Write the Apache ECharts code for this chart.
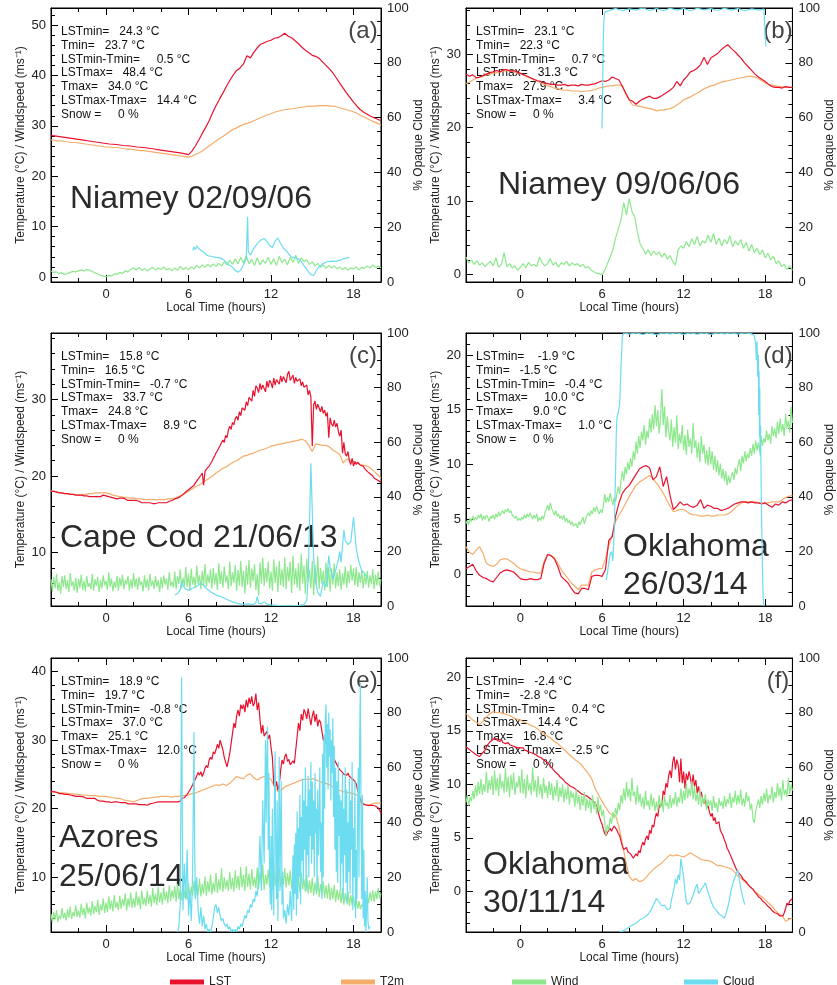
<!DOCTYPE html>
<html><head><meta charset="utf-8">
<script src="https://cdn.jsdelivr.net/npm/echarts@6/dist/echarts.min.js"></script>
<style>html,body{margin:0;padding:0;background:#fff}#c{width:837px;height:985px}</style>
</head><body><div id="c"></div><script>
// ---------------- DATA ----------------
// LST / T2m sampled every 0.25 h from -4 h (panels a,b,d) ; fine LST every 0.1 h (c,e,f)
// Wind every 0.2 h (a,b) or 0.1 h (c,d,e,f); Cloud given as [hour, %] pairs
const aLST = [28.1,28.0,27.9,27.8, 27.7,27.6,27.5,27.4, 27.3,27.2,27.1,27.0, 26.9,26.8,26.7,26.6, 26.5,26.4,26.35,26.3, 26.2,26.1,26.05,26.0, 25.9,25.8,25.75,25.7, 25.6,25.5,25.4,25.3, 25.2,25.1,25.0,24.9, 24.8,24.7,24.6,24.45, 24.3,25.0,26.0,27.2, 28.5,29.7,31.0,32.6, 34.0,35.3,36.5,37.8, 39.0,40.1,41.0,41.5, 42.3,43.9,43.5,44.6, 45.5,46.2,46.5,46.8, 47.0,47.4,47.5,47.9, 48.4,47.8,47.5,46.9, 46.3,45.6,45.0,44.5, 44.0,43.8,43.4,42.7, 42.0,41.3,40.5,39.5, 38.5,37.5,36.5,35.6, 34.7,33.9,33.2,32.7, 32.3,31.9,31.6,31.3, 31.0];
const aT2m = [27.2,27.1,27.0,27.0, 26.9,26.8,26.7,26.7, 26.6,26.5,26.4,26.3, 26.2,26.1,26.0,25.9, 25.8,25.8,25.7,25.7, 25.6,25.5,25.4,25.4, 25.3,25.2,25.1,25.1, 25.0,24.9,24.8,24.7, 24.6,24.5,24.4,24.3, 24.2,24.1,24.0,23.9, 23.8,24.0,24.3,24.6, 25.0,25.5,26.0,26.5, 27.0,27.5,27.9,28.4, 28.9,29.3,29.6,30.0, 30.3,30.5,30.7,31.0, 31.3,31.6,31.9,32.2, 32.4,32.7,32.9,33.1, 33.2,33.3,33.4,33.5, 33.6,33.7,33.8,33.9, 33.9,33.9,34.0,34.0, 34.0,33.9,33.9,33.8, 33.6,33.4,33.2,33.0, 32.8,32.5,32.1,31.8, 31.4,31.1,30.8,30.5, 30.2];
const aWind = [1.2,0.9,1.0,0.7,0.8,0.5,0.7,0.9,1.1,1.0, 1.2,1.4,1.2,1.5,1.3,1.1,0.8,0.6,0.3,0.2, 0.0,0.3,0.2,0.6,0.5,0.9,0.7,1.2,1.0,1.5, 1.8,1.4,1.9,1.3,1.7,1.2,1.6,1.9,1.4,1.8, 1.5,2.0,1.4,1.7,1.2,1.8,1.3,2.1,1.5,1.9, 1.4,2.0,1.6,2.3,1.8,2.4,1.9,2.5,2.0,2.6, 2.1,2.7,2.2,3.0,2.4,3.3,2.5,3.6,2.6,3.9, 2.8,4.2,2.6,3.5,2.3,3.8,2.4,3.4,2.7,3.9, 2.5,3.6,2.3,4.1,2.8,3.5,2.4,3.9,2.9,4.3, 2.7,3.8,3.1,3.4,2.5,3.0,2.2,2.7,1.9,2.4, 1.7,2.3,1.8,2.2,1.6,2.0,1.5,1.9,1.3,1.8, 1.6,2.0,1.4,1.9,1.7,2.2,1.8,2.4,1.9,2.1, 1.8];
const aCloud = [[6.3,11.5],[6.4,12.8],[6.5,11.8],[6.6,13.2],[6.7,12.4],[6.8,13.0],[6.9,11.6],[7.0,12.2],[7.2,10.5],[7.4,9.6],[7.7,9.3],[8.0,9.0],[8.3,8.8],[8.6,7.9],[8.9,6.4],[9.2,5.4],[9.4,4.2],[9.6,3.6],[9.8,4.4],[10.0,6.3],[10.2,8.5],[10.3,23.8],[10.35,11.0],[10.5,9.8],[10.7,11.9],[10.9,13.3],[11.1,14.6],[11.3,15.4],[11.5,15.9],[11.7,14.8],[11.9,13.3],[12.1,12.6],[12.3,14.9],[12.5,16.1],[12.7,14.0],[12.9,12.3],[13.1,11.5],[13.3,10.2],[13.5,9.1],[13.8,8.8],[14.1,8.2],[14.4,6.0],[14.7,4.0],[14.9,2.6],[15.1,2.4],[15.3,4.2],[15.5,5.6],[15.8,6.8],[16.1,7.4],[16.4,7.6],[16.7,7.5],[17.0,7.9],[17.2,8.3],[17.4,8.6],[17.7,8.9]];

const bLST = [27.3,27.0,27.2,26.8, 26.9,27.1,27.3,27.5, 27.6,27.8,27.6,27.9, 27.9,27.7,27.8,27.6, 27.4,27.2,27.0,26.8, 26.6,26.4,26.3,26.1, 26.0,25.9,25.9,25.8, 25.8,25.9,25.7,25.8, 25.8,25.7,25.9,25.8, 25.8,25.9,26.0,26.2, 26.4,26.3,26.5,26.9, 26.7,26.5,25.6,24.7, 23.8,23.6,23.2,23.6, 23.9,24.1,24.3,24.0, 24.0,24.2,24.5,24.8, 25.1,25.5,26.3,25.7, 26.5,27.0,27.6,27.8, 28.1,28.6,29.6,28.6, 29.5,29.8,30.1,30.6, 31.0,31.3,30.8,30.4, 29.9,29.4,28.8,28.3, 27.8,27.3,26.9,26.6, 26.3,25.9,25.6,25.5, 25.5,25.4,25.6,25.5, 25.5];
const bT2m = [26.0,26.2,26.5,26.7, 26.9,27.0,27.2,27.3, 27.4,27.5,27.6,27.7, 27.8,27.7,27.6,27.5, 27.4,27.2,26.9,26.7, 26.5,26.3,26.1,25.9, 25.7,25.6,25.4,25.3, 25.2,25.1,25.1,25.0, 25.0,25.0,24.9,25.0, 25.0,25.1,25.2,25.4, 25.5,25.6,25.7,25.7, 25.8,25.8,25.7,24.6, 23.8,23.1,23.0,22.9, 22.8,22.7,22.6,22.5, 22.3,22.4,22.4,22.5, 22.6,22.8,23.1,23.4, 23.8,24.0,24.2,24.5, 24.7,25.0,25.3,25.5, 25.7,25.8,26.0,26.2, 26.3,26.4,26.5,26.6, 26.7,26.8,26.9,27.0, 27.0,26.9,26.7,26.4, 26.1,25.9,25.8,25.7, 25.6,25.6,25.5,25.5, 25.5];
const bWind = [2.4,1.6,2.0,1.4,1.9,1.3,1.6,1.1,1.5,1.8, 1.2,2.3,1.0,1.4,3.0,1.1,1.5,0.9,1.2,0.6, 1.0,1.5,0.9,1.7,1.2,1.4,1.1,2.4,1.6,1.2, 1.5,2.2,1.3,1.7,1.0,1.6,1.4,1.8,1.2,1.6, 1.3,1.5,1.1,1.4,0.9,1.1,0.6,0.4,0.2,0.1, 0.0,0.6,1.5,2.4,3.4,5.0,6.2,7.5,9.8,8.1, 10.4,8.6,7.9,5.8,4.2,3.6,2.8,3.4,2.6,3.2, 2.7,3.1,2.4,2.9,2.1,2.6,1.8,1.3,3.4,3.9, 3.6,4.5,3.8,4.9,4.1,5.2,3.9,4.6,4.3,5.4, 4.4,5.6,4.1,5.0,3.9,4.8,4.2,5.3,3.8,4.6, 4.0,4.8,3.6,4.4,3.2,4.1,3.0,3.6,2.7,3.4, 2.3,2.9,2.0,2.5,1.5,1.9,1.1,1.4,0.7,1.2, 0.6];
const bCloud = [[6.0,56],[6.03,66],[6.07,80],[6.1,90],[6.15,96],[6.2,98.5],[6.6,99.2],[7.0,99.8],[7.5,99.0],[8.0,99.7],[8.5,99.2],[9.0,100],[9.5,99.1],[10.0,99.8],[10.5,99.0],[11.0,99.9],[11.5,99.2],[12.0,99.8],[12.5,99.0],[13.0,99.9],[13.5,99.3],[14.0,99.8],[14.5,99.1],[15.0,99.9],[15.5,99.2],[16.0,99.8],[16.5,99.0],[17.0,99.7],[17.5,99.2],[17.9,99.6],[17.95,95],[18.0,90],[18.05,86]];

const cLST = [18.0,17.9,18.0,17.8,17.9,17.8,17.8,17.7,17.8,17.7, 17.7,17.6,17.7,17.6,17.6,17.5,17.6,17.5,17.5,17.4, 17.5,17.4,17.5,17.3,17.4,17.3,17.4,17.2,17.3,17.3, 17.3,17.2,17.3,17.2,17.3,17.4,17.3,17.4,17.5,17.4, 17.4,17.5,17.3,17.4,17.2,17.2,17.1,17.2,17.0,17.1, 17.1,17.0,17.1,16.9,17.0,16.9,16.8,16.9,16.8,16.8, 16.8,16.7,16.8,16.6,16.7,16.6,16.5,16.6,16.5,16.6, 16.5,16.4,16.5,16.3,16.4,16.3,16.4,16.4,16.5,16.4, 16.5,16.4,16.5,16.6,16.5,16.6,16.7,16.6,16.8,16.9, 17.0,17.0,17.1,17.2,17.3,17.5,17.6,17.8,17.9,18.0, 18.2,18.3,18.5,18.6,18.8,19.1,19.3,19.6,19.8,20.1, 20.4,18.8,20.6,20.9,21.1,21.3,21.6,21.9,22.3,22.6, 23.0,23.3,23.5,24.0,23.8,24.7,24.4,25.3,25.0,26.0, 26.5,26.1,27.0,26.7,27.5,27.8,27.3,28.4,27.9,28.9, 29.1,28.6,29.7,29.2,30.3,30.2,29.8,31.2,30.4,31.8, 31.5,30.9,32.1,31.3,31.9,31.7,31.0,32.4,31.6,32.5, 32.2,31.5,32.8,31.9,32.6,32.6,32.0,33.1,32.3,33.0, 32.8,32.2,33.3,33.7,32.5,32.6,33.2,32.1,32.9,32.4, 32.2,32.7,31.8,32.3,31.6,31.5,31.9,30.6,31.2,30.3, 23.9,29.3,29.8,28.7,29.4,28.9,28.4,29.1,28.2,28.6, 27.8,28.3,25.0,27.6,26.8,26.5,27.3,26.4,26.9,25.8, 25.2,26.0,23.0,24.4,22.9,22.6,23.2,22.0,21.5,22.3, 21.3,21.9,21.5,21.8,21.6,21.4,21.2,21.3,21.0,20.9, 20.6,20.5,20.3,20.2,20.0,19.7,19.6,19.5,19.4,19.3, 19.2];
const cT2m = [18.1,18.0,17.9,17.8, 17.7,17.7,17.6,17.6, 17.5,17.6,17.6,17.7, 17.7,17.8,17.8,17.8, 17.8,17.7,17.5,17.4, 17.3,17.2,17.2,17.1, 17.1,17.0,17.0,16.9, 16.9,16.9,16.9,16.9, 16.9,16.9,17.0,17.0, 17.1,17.3,17.5,17.7, 18.0,18.3,18.6,18.8, 19.1,19.4,19.7,20.0, 20.4,20.7,21.0,21.2, 21.5,21.8,22.0,22.3, 22.6,22.7,22.9,23.0, 23.2,23.4,23.5,23.7, 23.9,24.0,24.1,24.2, 24.3,24.4,24.5,24.6, 24.7,24.8,24.6,24.0, 23.2,24.2,24.1,24.0, 24.0,23.8,23.4,23.1, 22.8,21.7,22.2,22.1, 21.9,21.7,21.5,21.4, 21.3,21.0,20.6,20.2, 19.7];
const cWind = [6.5,4.9,6.8,5.3,7.2,5.0,6.1,4.6,6.9,5.5, 7.0,5.2,6.4,4.8,7.3,5.6,6.2,5.0,6.7,4.7, 6.6,5.4,7.1,5.1,6.3,4.9,6.9,5.5,6.0,5.2, 7.2,5.0,6.5,5.6,6.8,4.8,6.4,5.3,7.0,5.7, 6.3,5.1,7.4,5.5,6.6,4.9,6.2,5.4,6.9,5.0, 6.7,5.6,7.1,5.2,6.4,5.8,6.9,5.0,6.5,5.3, 7.3,5.5,6.6,5.1,6.8,5.7,6.2,4.9,7.0,5.4, 6.5,5.0,7.2,5.6,6.3,5.2,6.9,5.5,6.4,4.8, 6.8,5.3,7.0,5.8,6.6,5.1,7.4,5.6,6.2,5.4, 7.5,5.2,6.9,5.9,7.8,5.3,6.7,5.6,8.1,5.5, 7.2,5.0,7.9,5.8,6.8,5.4,8.3,5.9,7.0,5.2, 7.6,5.7,8.5,5.5,7.1,6.0,7.8,5.3,8.0,5.8, 7.3,5.1,8.6,5.9,7.5,5.4,8.2,6.1,7.0,5.2, 8.8,5.6,7.4,6.0,8.4,5.0,7.7,5.7,8.9,5.5, 7.6,4.6,8.3,5.8,9.0,5.4,7.9,6.2,8.5,5.1, 7.2,4.3,8.7,5.9,9.3,5.6,8.0,6.1,8.8,5.3, 7.5,5.0,9.1,6.0,8.2,4.8,8.9,5.7,7.8,5.5, 9.4,5.2,8.1,6.2,8.8,4.7,9.6,5.8,7.9,5.4, 8.6,5.0,9.8,5.9,8.3,4.6,9.2,6.1,7.7,5.3, 8.9,4.4,8.4,5.7,9.5,5.2,8.0,5.9,7.6,5.0, 8.7,5.5,8.1,4.9,7.9,5.8,8.6,5.3,7.4,5.6, 7.8,5.1,7.3,5.8,8.2,5.4,7.6,6.0,8.4,6.3, 7.9,5.7,8.1,5.5,7.4,6.0,7.7,5.3,7.2,5.8, 7.6,5.4,7.0,5.9,7.8,5.2,7.1,5.7,7.5,5.6, 6.5];
const cCloud = [[5.0,4.0],[5.2,4.5],[5.4,6.0],[5.5,9.0],[5.6,7.5],[5.8,6.2],[6.0,5.8],[6.3,6.5],[6.6,7.2],[6.9,8.4],[7.1,7.6],[7.3,6.4],[7.6,5.2],[8.0,4.0],[8.4,3.4],[8.8,2.4],[9.2,1.5],[9.6,0.9],[10.0,0.6],[10.4,0.8],[10.7,0.5],[10.9,1.2],[11.0,3.4],[11.1,1.0],[11.3,0.8],[11.5,1.6],[11.7,0.7],[12.0,0.4],[12.5,0.2],[13.0,0.1],[13.5,0.1],[14.0,0.2],[14.4,0.5],[14.6,2.0],[14.7,10.5],[14.8,30.0],[14.9,52.3],[15.0,35.0],[15.1,18.0],[15.2,10.0],[15.4,5.0],[15.6,3.5],[15.8,9.0],[16.0,7.0],[16.1,12.0],[16.2,18.5],[16.3,14.0],[16.5,10.0],[16.7,13.0],[16.9,17.0],[17.0,20.0],[17.1,16.0],[17.2,22.0],[17.3,27.8],[17.4,24.0],[17.6,22.5],[17.8,23.5],[17.9,28.0],[18.0,32.5],[18.1,27.0],[18.2,21.0],[18.4,16.0],[18.6,13.0],[18.8,12.0],[19.0,10.5]];

const dLST = [0.5,0.7,0.9,0.3, -0.1,-0.3,-0.4,-0.6, -0.7,-0.3,0.1,0.3, 0.4,0.3,0.2,-0.1, -0.4,-0.5,-0.5,-0.4, -0.5,-0.5,-0.4,1.0, 1.8,1.7,1.4,0.7, -0.2,-0.5,-0.8,-1.3, -1.7,-1.8,-1.3,-1.3, -1.4,-0.2,-0.1,-0.1, -0.2,0.4,3.1,3.4, 5.3,6.5,7.4,7.8, 8.1,8.6,9.1,9.6, 9.8,9.9,9.7,8.6, 8.9,9.8,8.0,8.9, 7.2,5.9,6.2,6.6, 6.3,6.4,6.2,6.1, 6.3,6.8,6.0,6.3, 6.2,6.0,6.0,5.8, 5.9,6.0,6.2,6.4, 6.5,6.6,6.6,6.5, 6.6,6.5,6.5,6.4, 6.5,6.3,6.1,6.4, 6.3,6.6,6.5,6.7, 6.8];
const dT2m = [2.5,2.0,1.8,2.2, 2.5,1.9,1.0,0.8, 0.7,0.9,1.3,1.4, 1.4,1.2,1.0,0.7, 0.5,0.4,0.3,0.2, 0.2,0.1,0.1,1.2, 1.8,1.7,1.5,1.0, 0.4,0.0,-0.4,-0.8, -1.1,-1.4,-1.0,-1.0, -1.0,0.2,0.4,0.5, 0.5,1.4,2.6,3.6, 4.8,5.4,5.9,6.5, 7.1,7.6,8.1,8.4, 8.6,8.8,9.0,8.7, 8.3,7.9,7.4,6.8, 6.2,5.7,5.8,5.9, 5.9,5.7,5.5,5.4, 5.4,5.3,5.3,5.4, 5.3,5.3,5.4,5.4, 5.4,5.5,5.7,6.0, 6.3,6.5,6.6,6.6, 6.6,6.6,6.5,6.5, 6.5,6.5,6.6,6.6, 6.6,6.8,7.0,7.1, 7.2];
const dWind = [4.6,4.9,4.5,5.1,4.8,5.3,4.9,5.2,5.0,5.4, 5.1,5.5,4.9,5.3,5.0,5.4,5.2,4.8,5.3,5.1, 5.4,5.0,5.5,5.2,5.7,5.3,5.6,5.8,5.5,5.9, 5.7,6.0,5.6,5.8,5.4,5.5,5.1,5.3,4.9,5.1, 4.9,5.2,5.0,5.4,5.1,5.5,5.2,5.6,5.3,5.0, 5.4,5.1,5.5,4.8,5.2,4.9,5.3,5.0,5.6,5.9, 6.3,5.8,6.5,6.0,5.7,5.4,5.8,5.3,5.5,5.1, 5.3,5.0,5.4,4.8,5.1,4.7,4.9,4.5,4.8,4.4, 4.3,4.6,4.2,4.8,4.5,4.9,5.2,4.6,5.0,5.4, 5.6,5.3,5.8,5.5,6.1,5.7,6.2,5.8,5.5,5.9, 5.6,6.2,7.3,6.5,7.0,6.6,7.4,6.8,6.3,7.0, 6.6,7.4,8.0,7.3,8.6,9.4,8.5,9.8,9.1,10.2, 9.5,10.6,9.8,11.2,10.4,12.1,11.0,12.6,11.5,13.0, 12.2,13.6,11.8,13.1,12.4,14.2,12.9,14.6,13.2,15.4, 13.5,15.0,12.8,14.2,16.9,13.6,15.3,12.5,14.4,13.0, 12.2,14.1,11.6,13.4,12.0,14.5,11.4,12.8,11.9,13.6, 11.3,12.7,10.9,13.2,11.6,12.4,11.0,13.8,11.5,12.2, 10.6,12.0,10.2,12.6,11.0,11.8,10.1,11.3,9.9,11.6, 10.0,11.2,9.5,10.8,9.3,10.4,9.0,10.1,8.7,9.6, 8.5,9.4,8.1,9.0,8.3,8.9,9.3,8.6,9.7,9.1, 9.9,10.5,9.4,10.8,10.1,11.2,10.3,11.0,10.6,11.5, 10.8,11.9,11.0,12.2,11.3,12.0,11.1,12.6,11.7,12.4, 12.0,13.1,12.2,12.8,11.9,13.5,12.6,13.3,12.4,13.9, 12.8,14.2,13.0,13.7,12.6,14.6,13.3,14.0,12.9,15.3, 13.8];
const dCloud = [[6.3,9.5],[6.4,12],[6.5,16],[6.6,19],[6.7,20],[6.8,16.5],[6.9,28],[7.0,50],[7.05,63],[7.1,69],[7.2,71],[7.3,74],[7.4,88],[7.5,98.8],[7.6,100],[8.0,99.6],[8.5,100],[9.0,99.5],[9.5,100],[10.0,99.4],[10.5,100],[11.0,99.7],[11.5,100],[12.0,99.5],[12.5,100],[13.0,99.6],[13.5,100],[14.0,99.5],[14.5,100],[15.0,99.7],[15.5,100],[16.0,99.6],[16.5,100],[17.0,99.7],[17.2,99],[17.3,96],[17.35,90],[17.4,97],[17.45,84],[17.5,92],[17.52,70],[17.55,86],[17.58,62],[17.6,80],[17.63,55],[17.66,66],[17.7,45],[17.74,30],[17.78,18],[17.82,8],[17.86,2],[17.9,0]];

const eLST = [22.5,22.4,22.5,22.3,22.4,22.3,22.2,22.3,22.2,22.1, 22.1,22.0,22.1,21.9,22.0,21.8,21.9,21.8,21.8,21.7, 21.8,21.7,21.8,21.6,21.7,21.6,21.5,21.6,21.5,21.5, 21.5,21.4,21.5,21.3,21.2,21.2,21.1,21.0,21.1,21.0, 21.0,20.9,21.0,20.8,20.9,20.9,21.0,20.9,21.0,20.9, 20.9,21.0,20.9,20.8,20.9,20.8,20.7,20.8,20.7,20.8, 20.7,20.6,20.7,20.5,20.6,20.5,20.6,20.5,20.6,20.5, 20.5,20.6,20.7,20.6,20.8,20.7,20.9,20.8,21.0,20.9, 21.0,20.9,21.0,21.1,21.0,20.9,21.0,21.1,21.0,21.1, 21.0,21.1,21.0,21.2,21.1,21.5,21.4,21.6,21.8,22.1, 22.4,22.7,23.1,23.5,24.0,24.3,24.8,25.3,24.9,25.4, 24.7,25.2,25.9,26.3,26.0,27.1,27.5,27.2,28.3,28.0, 28.6,29.4,28.8,30.0,29.3,28.6,27.5,26.8,26.1,27.0, 28.1,29.5,31.0,32.5,31.8,33.6,34.4,33.5,35.2,34.6, 35.2,34.1,35.9,34.8,36.2,35.3,36.4,35.0,35.4,36.8, 34.4,35.5,33.0,31.0,32.2,30.6,30.5,31.3,30.2,30.8, 29.0,27.5,23.7,22.9,24.0,22.7,23.5,25.6,27.1,26.5, 27.6,28.0,26.9,27.2,26.4,26.4,27.0,26.6,28.6,30.5, 32.5,31.4,33.8,32.9,34.5,34.0,33.1,34.6,33.4,32.2, 33.5,34.3,32.7,33.8,32.0,33.0,32.6,31.4,30.0,30.6, 29.6,29.2,28.7,28.1,28.0,27.6,27.2,26.8,26.4,26.0, 25.7,25.5,25.3,25.0,24.9,24.9,25.2,24.7,24.5,24.4, 24.4,24.0,23.6,22.7,22.0,21.4,20.8,20.7,20.6,20.6, 20.5,20.6,20.5,20.4,20.5,20.5,20.4,20.3,20.1,19.8, 19.3];
const eT2m = [22.5,22.4,22.4,22.3, 22.3,22.2,22.2,22.1, 22.1,22.0,22.0,21.9, 21.9,21.9,21.8,21.8, 21.8,21.7,21.6,21.5, 21.5,21.3,21.2,21.1, 21.0,21.2,21.4,21.5, 21.5,21.6,21.7,21.7, 21.8,21.8,21.8,21.7, 21.8,21.8,21.9,21.9, 22.0,22.2,22.3,22.5, 22.7,22.9,23.1,23.3, 23.5,23.4,23.6,23.4, 23.7,24.2,24.7,24.5, 24.4,24.9,25.1,24.5, 24.2,24.5,24.7,24.6, 24.3,23.2,22.5,22.7, 23.2,23.4,23.6,23.8, 24.0,24.2,24.3,24.3, 24.4,24.2,24.0,23.8, 23.7,23.5,23.2,22.9, 22.7,22.5,22.4,22.3, 22.2,22.0,21.0,20.7, 20.5,20.6,20.8,20.8, 20.8];
const eWind = [4.6,3.4,4.9,3.8,5.2,3.5,4.4,3.9,5.5,4.0, 4.8,3.7,5.3,4.1,5.7,3.9,4.9,4.3,5.9,4.2, 5.2,4.1,6.1,4.5,5.5,4.0,6.3,4.7,5.6,4.4, 6.5,4.6,5.8,4.9,6.7,4.5,6.0,5.1,6.9,4.8, 6.3,4.9,7.2,5.3,6.6,5.0,7.4,5.5,6.4,5.2, 7.3,5.4,6.8,5.8,7.6,5.1,6.9,5.7,7.8,5.5, 6.9,5.6,7.9,5.9,7.2,5.3,8.1,6.0,7.0,5.8, 8.0,6.1,7.4,5.7,8.4,6.2,7.6,5.9,8.6,6.3, 7.8,6.0,8.5,6.6,7.9,6.2,8.8,6.5,8.1,6.9, 8.7,6.4,9.0,6.8,8.3,6.6,9.3,7.0,8.5,6.7, 9.1,7.0,8.6,7.3,9.5,6.9,8.8,7.4,9.8,7.2, 9.0,7.6,10.1,7.3,9.4,7.8,10.4,7.5,9.2,7.9, 10.6,7.7,9.7,8.1,11.3,7.8,10.0,8.3,9.6,8.0, 10.8,8.2,9.9,7.9,11.0,8.4,10.2,8.1,11.5,8.5, 10.3,8.0,11.6,8.6,10.5,8.2,11.2,8.7,10.0,8.4, 11.4,8.3,10.7,8.8,11.8,8.1,10.4,8.9,11.1,8.5, 10.6,8.2,11.9,8.7,10.9,8.4,11.5,8.6,10.2,8.9, 11.3,8.5,10.6,8.8,11.0,8.3,10.4,8.6,10.8,8.1, 10.1,7.8,10.6,8.2,9.7,7.9,10.3,7.6,9.5,7.7, 9.9,7.3,9.2,7.5,10.2,7.1,9.0,7.4,9.4,7.0, 8.8,6.9,9.1,6.6,8.5,6.8,8.9,6.4,8.2,6.7, 8.0,6.2,8.4,6.0,7.7,6.3,7.9,5.8,7.4,5.9, 7.2,5.6,6.9,5.4,6.5,5.3,6.0,5.7,6.6,5.9, 7.3,6.2,7.8,6.5,8.1,6.4,7.9,6.8,8.4,6.9, 7.6];
const eCloud = [[5.2,0],[5.3,2],[5.4,10],[5.5,93],[5.55,40],[5.6,8],[5.7,25],[5.8,12],[5.9,30],[6.0,6],[6.1,15],[6.2,4],[6.3,22],[6.4,73],[6.45,30],[6.5,12],[6.6,20],[6.7,8],[6.8,3],[6.9,9],[7.0,2],[7.1,6],[7.2,1],[7.3,3],[7.4,0],[7.5,1],[7.6,0],[7.7,2],[7.8,5],[7.9,9],[8.0,10],[8.1,7],[8.2,9],[8.3,6],[8.4,4],[8.5,5],[8.6,3],[8.7,2],[8.8,3],[8.9,1],[9.0,2],[9.1,0],[9.2,1],[9.3,0],[9.4,1],[9.5,0],[9.6,2],[9.7,1],[9.8,3],[9.9,2],[10.0,4],[10.1,6],[10.2,5],[10.3,8],[10.4,7],[10.5,10],[10.6,9],[10.7,12],[10.8,11],[10.9,15],[11.0,13],[11.1,20],[11.2,35],[11.3,15],[11.4,48],[11.5,25],[11.6,70],[11.65,40],[11.7,62],[11.75,75],[11.8,30],[11.85,58],[11.9,20],[11.95,10],[12.0,35],[12.05,8],[12.1,45],[12.15,18],[12.2,6],[12.25,52],[12.3,66],[12.35,25],[12.4,12],[12.45,48],[12.5,4],[12.55,30],[12.6,64],[12.65,15],[12.7,40],[12.75,55],[12.8,10],[12.85,22],[12.9,5],[13.0,8],[13.1,3],[13.2,10],[13.3,6],[13.4,15],[13.5,4],[13.6,28],[13.65,8],[13.7,32],[13.75,14],[13.8,36],[13.85,6],[13.9,44],[13.95,12],[14.0,38],[14.05,20],[14.1,50],[14.15,10],[14.2,42],[14.25,26],[14.3,56],[14.35,18],[14.4,48],[14.45,30],[14.5,60],[14.55,15],[14.6,46],[14.65,28],[14.7,57],[14.75,20],[14.8,52],[14.85,35],[14.9,62],[14.95,25],[15.0,55],[15.05,30],[15.1,48],[15.15,20],[15.2,58],[15.25,36],[15.3,45],[15.35,15],[15.4,52],[15.45,28],[15.5,42],[15.55,60],[15.6,22],[15.65,40],[15.7,12],[15.75,65],[15.8,20],[15.85,72],[15.9,45],[15.95,78],[16.0,83],[16.05,60],[16.1,76],[16.15,52],[16.2,80],[16.25,64],[16.3,74],[16.35,48],[16.4,70],[16.45,58],[16.5,78],[16.55,42],[16.6,68],[16.65,30],[16.7,60],[16.75,22],[16.8,55],[16.85,18],[16.9,62],[16.95,35],[17.0,50],[17.05,15],[17.1,48],[17.15,25],[17.2,58],[17.25,12],[17.3,45],[17.35,28],[17.4,60],[17.45,18],[17.5,52],[17.55,10],[17.6,40],[17.65,22],[17.7,56],[17.75,14],[17.8,48],[17.85,30],[17.9,62],[17.95,8],[18.0,38],[18.05,20],[18.1,55],[18.15,5],[18.2,30],[18.25,12],[18.3,45],[18.35,60],[18.4,20],[18.45,70],[18.5,91],[18.55,40],[18.6,12],[18.65,50],[18.7,5],[18.75,30],[18.8,2],[18.85,15],[18.9,0],[18.95,8],[19.0,20],[19.05,4],[19.1,1],[19.2,2]];

const fLST = [13.5,13.4,13.3,13.3,13.1,13.1,12.9,12.8,12.7,12.6, 12.6,12.7,12.9,13.0,13.2,13.5,13.7,13.8,14.0,14.1, 14.2,14.1,14.3,14.1,14.0,14.0,14.2,13.9,13.9,13.8, 13.8,13.9,13.7,13.8,13.6,13.6,13.5,13.6,13.4,13.5, 13.4,13.3,13.4,13.2,13.3,13.1,13.2,13.0,13.1,12.9, 12.9,12.8,12.8,12.6,12.7,12.5,12.4,12.3,12.2,12.1, 12.0,11.9,11.7,11.6,11.4,11.3,11.1,11.0,10.9,10.7, 10.6,10.5,10.4,10.2,10.1,10.0,9.9,9.8,9.7,9.7, 9.6,9.5,9.4,9.3,9.2,9.1,9.1,9.0,8.9,8.9, 8.8,8.7,8.6,8.5,8.4,8.2,8.0,7.5,7.0,6.6, 6.3,5.8,5.4,5.2,5.5,5.7,5.9,5.6,5.9,6.1, 6.0,5.7,5.4,5.2,4.7,4.2,3.9,3.8,4.1,3.7, 3.7,3.5,3.3,3.1,3.2,3.5,3.3,3.8,3.6,4.2, 4.6,4.3,4.9,5.2,4.8,5.7,5.4,6.2,6.0,6.8, 7.3,7.0,7.9,8.2,8.0,9.4,9.0,10.1,9.7,10.8, 11.3,10.6,12.1,12.6,11.4,12.3,11.8,10.2,12.4,10.1, 11.2,9.6,11.0,10.4,11.2,10.6,9.8,10.9,9.8,10.4, 9.2,9.8,8.9,9.3,8.6,8.2,8.6,7.8,8.0,7.4, 7.0,7.3,6.6,6.9,6.3,6.3,6.5,5.7,5.8,5.2, 4.8,4.5,4.0,3.8,3.5,3.2,2.9,2.6,2.3,2.0, 1.8,1.7,1.5,1.3,1.1,1.0,0.9,0.7,0.6,0.4, 0.3,0.2,0.0,-0.1,-0.3,-0.5,-0.6,-0.7,-0.9,-1.0, -1.1,-1.2,-1.4,-1.5,-1.6,-1.8,-1.9,-2.0,-2.1,-2.1, -2.2,-2.3,-2.4,-2.3,-2.0,-1.6,-1.1,-1.3,-0.9,-1.0, -0.7];
const fT2m = [16.6,16.3,16.0,15.8, 15.6,15.9,16.3,16.6, 16.8,16.7,16.7,16.6, 16.5,16.4,16.2,16.1, 16.0,15.8,15.7,15.5, 15.4,15.2,14.9,14.7, 14.5,14.3,14.0,13.8, 13.5,13.2,12.9,12.6, 12.3,12.1,11.8,11.4, 11.0,10.5,9.6,9.0, 8.4,7.9,7.4,7.1, 7.1,6.0,4.4,2.8, 1.4,1.0,1.2,0.9, 1.0,1.3,1.7,2.0, 2.3,2.5,2.8,3.1, 3.4,3.3,3.4,3.3, 3.2,3.4,3.6,3.4, 3.2,3.0,2.9,2.9, 2.8,2.6,2.4,2.4, 2.3,2.2,2.1,1.8, 1.4,1.2,0.9,0.6, 0.3,0.0,-0.3,-0.5, -0.8,-1.1,-1.4,-1.8, -2.1,-2.3,-2.8,-2.6, -2.5];
const fWind = [8.3,9.0,8.0,8.8,8.4,9.4,8.6,9.9,8.9,10.2, 9.1,10.5,9.0,10.0,9.3,11.2,9.2,10.4,9.5,10.8, 9.0,11.3,9.4,10.6,8.9,11.0,9.6,10.3,9.2,11.5, 9.3,10.7,8.8,10.9,9.5,11.1,9.0,10.2,9.7,10.8, 9.2,11.4,9.1,10.5,8.7,10.9,9.4,10.1,9.0,11.6, 9.3,10.4,8.8,10.8,9.1,10.0,8.6,10.6,9.2,9.9, 8.7,10.3,9.0,10.1,8.5,9.8,8.9,10.4,8.4,9.7, 8.8,10.0,8.3,9.6,8.6,9.9,8.1,9.4,8.7,9.2, 7.9,9.5,8.2,9.0,7.6,8.9,8.0,9.3,7.5,8.7, 7.8,8.6,7.3,9.0,7.7,8.4,7.2,8.8,7.4,8.1, 7.0,7.6,6.4,5.2,6.2,5.7,6.9,6.3,7.4,6.8, 7.8,7.1,8.3,7.6,9.0,8.2,9.6,8.5,10.2,8.8, 9.6,8.4,10.6,8.9,9.3,8.1,9.9,8.3,9.1,7.9, 8.8,7.7,9.4,8.0,8.5,7.6,9.1,7.9,8.7,7.5, 8.4,7.6,9.0,7.8,8.6,7.4,8.9,8.0,8.3,7.7, 9.0,7.8,8.7,8.1,9.3,7.9,8.8,8.3,9.6,8.2, 9.4,8.5,10.1,8.7,9.6,8.9,10.3,8.6,9.8,8.4, 9.2,8.1,9.5,7.9,8.8,8.2,9.1,7.6,8.6,8.0, 8.5,7.5,8.9,7.8,8.3,7.4,8.7,8.0,8.4,7.7, 8.9,7.9,8.6,8.2,9.2,7.8,8.8,8.3,9.4,8.1, 9.0,8.2,9.5,8.0,8.7,7.9,9.3,8.4,8.9,7.6, 8.2,6.8,6.4,7.5,8.0,8.6,7.8,8.9,8.1,9.2, 8.4,9.6,8.2,9.0,8.6,9.8,8.3,9.3,8.7,10.1, 8.9,9.7,8.5,10.4,9.0,9.5,8.8,10.6,9.1,10.0, 9.4];
const fCloud = [[7.3,0],[7.6,0.5],[7.9,1.5],[8.2,2.5],[8.5,3.2],[8.8,4.5],[9.1,5.3],[9.4,6.5],[9.6,8.0],[9.8,10.0],[10.0,12.2],[10.2,11.0],[10.4,9.5],[10.6,9.8],[10.8,8.2],[11.0,8.5],[11.1,11.5],[11.3,16.0],[11.4,19.5],[11.5,17.5],[11.6,21.0],[11.7,19.0],[11.8,26.8],[11.9,23.5],[12.0,20.0],[12.1,15.0],[12.2,11.0],[12.3,10.0],[12.5,10.8],[12.7,13.5],[12.9,16.5],[13.0,17.5],[13.1,14.0],[13.3,15.5],[13.5,17.0],[13.6,18.0],[13.8,14.5],[14.0,11.5],[14.2,9.0],[14.4,8.0],[14.6,6.5],[14.8,6.0],[15.0,5.0],[15.1,6.5],[15.3,10.0],[15.5,15.5],[15.7,19.0],[15.9,21.5],[16.0,22.6],[16.1,19.0],[16.2,16.0],[16.35,12.5],[16.5,10.0]];

const aStats = ['LSTmin=   24.3 °C','Tmin=   23.7 °C','LSTmin-Tmin=     0.5 °C','LSTmax=   48.4 °C','Tmax=   34.0 °C','LSTmax-Tmax=   14.4 °C','Snow =     0 %'];
const bStats = ['LSTmin=   23.1 °C','Tmin=   22.3 °C','LSTmin-Tmin=     0.7 °C','LSTmax=   31.3 °C','Tmax=   27.9 °C','LSTmax-Tmax=     3.4 °C','Snow =     0 %'];
const cStats = ['LSTmin=   15.8 °C','Tmin=   16.5 °C','LSTmin-Tmin=   -0.7 °C','LSTmax=   33.7 °C','Tmax=   24.8 °C','LSTmax-Tmax=     8.9 °C','Snow =     0 %'];
const dStats = ['LSTmin=    -1.9 °C','Tmin=   -1.5 °C','LSTmin-Tmin=   -0.4 °C','LSTmax=     10.0 °C','Tmax=      9.0 °C','LSTmax-Tmax=     1.0 °C','Snow =     0 %'];
const eStats = ['LSTmin=   18.9 °C','Tmin=   19.7 °C','LSTmin-Tmin=   -0.8 °C','LSTmax=   37.0 °C','Tmax=   25.1 °C','LSTmax-Tmax=   12.0 °C','Snow =     0 %'];
const fStats = ['LSTmin=   -2.4 °C','Tmin=   -2.8 °C','LSTmin-Tmin=     0.4 °C','LSTmax=   14.4 °C','Tmax=   16.8 °C','LSTmax-Tmax=   -2.5 °C','Snow =     0 %'];

const X_MAJOR = [0, 6, 12, 18];
const X_MINOR = [-2, 2, 4, 8, 10, 14, 16];
const SERIES_NAMES = ['LST', 'T2m', 'Wind', 'Cloud'];

// ---------------- LAYOUT ----------------
const FF = '"Liberation Sans", Arial, Helvetica, sans-serif';
const COL = {LST:'#e8122f', T2m:'#f4ad6b', Wind:'#8de88d', Cloud:'#6cdcf0'};

const PANELS = [
  {letter:'(a)', left:51, top:8, height:274, yMin:-1, yMax:53.4, yMajor:[0,10,20,30,40,50], majStep:10, minStep:2,
   lst:[aLST,0.25], t2m:aT2m, wind:[aWind,0.2], cloud:aCloud, stats:aStats, place:['Niamey 02/09/06'], placeX:70, placeY:[199]},
  {letter:'(b)', left:466, top:8, height:274, yMin:-1, yMax:36.3, yMajor:[0,10,20,30], majStep:10, minStep:2,
   lst:[bLST,0.25], t2m:bT2m, wind:[bWind,0.2], cloud:bCloud, stats:bStats, place:['Niamey 09/06/06'], placeX:498, placeY:[185]},
  {letter:'(c)', left:51, top:333, height:273, yMin:3, yMax:38.7, yMajor:[10,20,30], majStep:10, minStep:2,
   lst:[cLST,0.1], t2m:cT2m, wind:[cWind,0.1], cloud:cCloud, stats:cStats, place:['Cape Cod 21/06/13'], placeX:60, placeY:[538]},
  {letter:'(d)', left:466, top:333, height:273, yMin:-2.9, yMax:22, yMajor:[0,5,10,15,20], majStep:5, minStep:1,
   lst:[dLST,0.25], t2m:dT2m, wind:[dWind,0.1], cloud:dCloud, stats:dStats, place:['Oklahoma','26/03/14'], placeX:623, placeY:[547,585]},
  {letter:'(e)', left:51, top:658, height:274, yMin:2, yMax:42, yMajor:[10,20,30,40], majStep:10, minStep:2,
   lst:[eLST,0.1], t2m:eT2m, wind:[eWind,0.1], cloud:eCloud, stats:eStats, place:['Azores','25/06/14'], placeX:59, placeY:[838,877]},
  {letter:'(f)', left:466, top:658, height:274, yMin:-3.8, yMax:21.8, yMajor:[0,5,10,15,20], majStep:5, minStep:1,
   lst:[fLST,0.1], t2m:fT2m, wind:[fWind,0.1], cloud:fCloud, stats:fStats, place:['Oklahoma','30/11/14'], placeX:483, placeY:[865,903]}
];
const W = 330;

function pts(vals, step) { return vals.map((v, i) => [Math.round((-4 + i * step) * 1000) / 1000, v]); }
function minorTicks(p) {
  const out = [];
  for (let v = Math.ceil(p.yMin / p.minStep) * p.minStep; v < p.yMax; v += p.minStep) {
    const r = Math.round(v * 10) / 10;
    if (Math.abs(r % p.majStep) > 1e-6) out.push(r);
  }
  return out;
}

const grids = [], xAxes = [], yAxes = [], series = [], graphics = [];
const axLine = {show:true, onZero:false, lineStyle:{color:'#000', width:1}};
const noLine = {show:false, onZero:false};
const tickStyle = {color:'#000', width:1};
const lblStyle = {fontSize:13, color:'#222', fontFamily:FF};

PANELS.forEach((p, gi) => {
  grids.push({left:p.left, top:p.top, width:W, height:p.height, show:true, borderColor:'#000', borderWidth:1, backgroundColor:'transparent'});
  const xb = {gridIndex:gi, type:'value', min:-4, max:20, splitLine:{show:false}};
  xAxes.push(
    Object.assign({}, xb, {position:'bottom', axisLine:axLine,
      axisTick:{show:true, inside:true, length:7, customValues:X_MAJOR, lineStyle:tickStyle},
      axisLabel:Object.assign({show:true, customValues:X_MAJOR, margin:6}, lblStyle),
      name:'Local Time (hours)', nameLocation:'middle', nameGap:19,
      nameTextStyle:{fontSize:12, color:'#222', fontFamily:FF}}),
    Object.assign({}, xb, {position:'bottom', axisLine:noLine,
      axisTick:{show:true, inside:true, length:4, customValues:X_MINOR, lineStyle:tickStyle}, axisLabel:{show:false}}),
    Object.assign({}, xb, {position:'top', axisLine:axLine,
      axisTick:{show:true, inside:true, length:7, customValues:X_MAJOR, lineStyle:tickStyle}, axisLabel:{show:false}}),
    Object.assign({}, xb, {position:'top', axisLine:noLine,
      axisTick:{show:true, inside:true, length:4, customValues:X_MINOR, lineStyle:tickStyle}, axisLabel:{show:false}})
  );
  const yb = {gridIndex:gi, type:'value', min:p.yMin, max:p.yMax, splitLine:{show:false}};
  yAxes.push(
    Object.assign({}, yb, {position:'left', axisLine:axLine,
      axisTick:{show:true, inside:true, length:7, customValues:p.yMajor, lineStyle:tickStyle},
      axisLabel:Object.assign({show:true, customValues:p.yMajor, margin:5}, lblStyle),
      name:'Temperature (°C) / Windspeed (ms⁻¹)', nameLocation:'middle', nameGap:24, nameRotate:90,
      nameTextStyle:{fontSize:12, color:'#222', fontFamily:FF}}),
    Object.assign({}, yb, {position:'left', axisLine:noLine,
      axisTick:{show:true, inside:true, length:4, customValues:minorTicks(p), lineStyle:tickStyle}, axisLabel:{show:false}}),
    {gridIndex:gi, type:'value', min:0, max:100, interval:20, position:'right', splitLine:{show:false}, axisLine:axLine,
      axisTick:{show:true, inside:true, length:7, lineStyle:tickStyle},
      minorTick:{show:true, splitNumber:4, length:4, lineStyle:tickStyle},
      axisLabel:Object.assign({show:true, margin:6}, lblStyle),
      name:'% Opaque Cloud', nameLocation:'middle', nameGap:26, nameRotate:90,
      nameTextStyle:{fontSize:12, color:'#222', fontFamily:FF}}
  );
  const base = {type:'line', xAxisIndex:gi*4, showSymbol:false, symbol:'none', animation:false, silent:true};
  const mk = (name, data, yIdx) => Object.assign({}, base, {name, data, yAxisIndex:yIdx, color:COL[name],
      itemStyle:{color:COL[name]}, lineStyle:{color:COL[name], width:1.2}});
  series.push(
    mk('T2m', pts(p.t2m, 0.25), gi*3),
    mk('LST', pts(p.lst[0], p.lst[1]), gi*3),
    mk('Wind', pts(p.wind[0], p.wind[1]), gi*3),
    mk('Cloud', p.cloud, gi*3 + 2)
  );
  p.stats.forEach((s, i) => graphics.push({type:'text', x:p.left + 10, y:p.top + 24 + i * 13.7, z:1,
    style:{text:s, fontSize:12, fontFamily:FF, fill:'#111', verticalAlign:'middle', align:'left'}}));
  graphics.push({type:'text', x:p.left + W - 18, y:p.top + 23, z:1,
    style:{text:p.letter, fontSize:24, fontFamily:FF, fill:'#444', align:'center', verticalAlign:'middle'}});
  p.place.forEach((s, i) => graphics.push({type:'text', x:p.placeX, y:p.placeY[i], z:1,
    style:{text:s, fontSize:32, fontFamily:FF, fill:'#2b2b2b', align:'left', verticalAlign:'middle'}}));
});

const legendX = [170, 341, 512, 684];
const legends = SERIES_NAMES.map((n, i) => ({data:[n], left:legendX[i], top:976, icon:'rect', itemWidth:34, itemHeight:5,
  padding:0, selectedMode:false, textStyle:{fontSize:12, color:'#222', fontFamily:FF}}));

const chart = echarts.init(document.getElementById('c'), null, {renderer:'canvas'});
chart.setOption({
  animation:false, backgroundColor:'#fff',
  grid:grids, xAxis:xAxes, yAxis:yAxes, series:series, legend:legends,
  graphic:{elements:graphics}
});
</script></body></html>
